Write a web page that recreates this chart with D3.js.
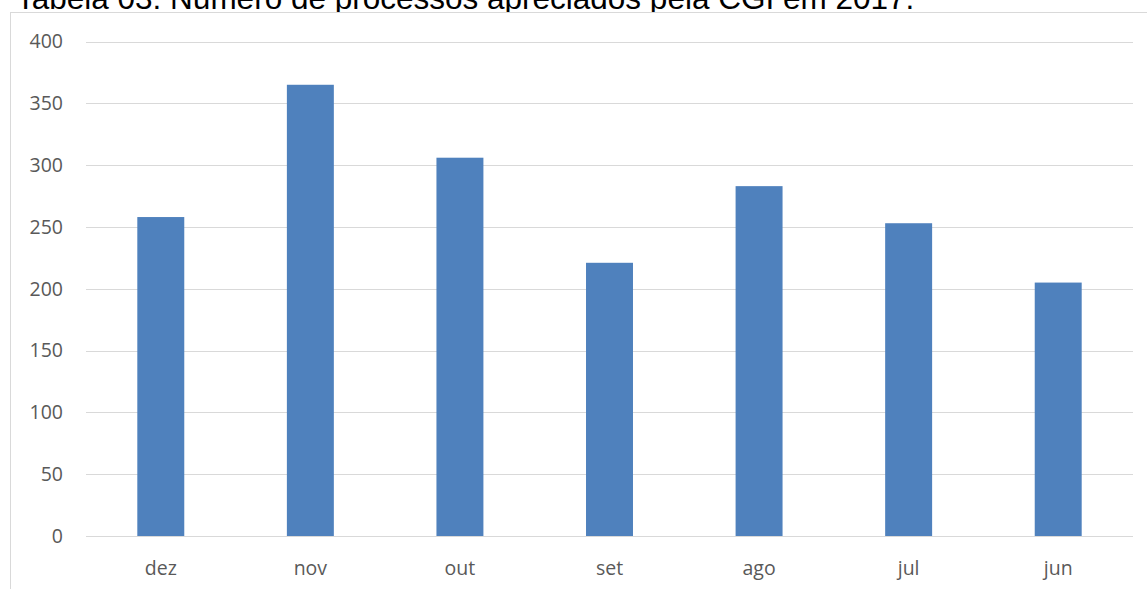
<!DOCTYPE html>
<html>
<head>
<meta charset="utf-8">
<script src="https://cdn.jsdelivr.net/npm/d3@7"></script>
<style>
html,body{margin:0;padding:0;background:#fff;overflow:hidden;}
svg{display:block;}
</style>
</head>
<body>
<svg id="chart" width="1147" height="589"></svg>
<script>
const title = "Tabela 03: Número de processos apreciados pela CGI em 2017.";
const categories = ["dez","nov","out","set","ago","jul","jun"];
const values = [258, 365, 306, 221, 283, 253, 205];
const yTicks = [0, 50, 100, 150, 200, 250, 300, 350, 400];

const W = 1147, H = 589;
const svg = d3.select("#chart");

// Title (partially hidden behind chart area)
svg.append("text")
  .attr("x", 16).attr("y", 9)
  .attr("font-family", "'Liberation Sans', Arial, sans-serif")
  .attr("font-size", 31.5)
  .attr("fill", "#000")
  .text(title);

// Chart area
svg.append("rect")
  .attr("x", 10.5).attr("y", 12.5)
  .attr("width", W + 10).attr("height", H + 10)
  .attr("fill", "#fff")
  .attr("stroke", "#d9d9d9").attr("stroke-width", 1);

const x = d3.scaleBand().domain(categories).range([86, 1133]).padding(0);
const y = d3.scaleLinear().domain([0, 400]).range([536, 41.5]);

// Gridlines
svg.append("g").selectAll("line").data(yTicks).join("line")
  .attr("x1", 86).attr("x2", 1133)
  .attr("y1", d => Math.round(y(d)) + 0.5).attr("y2", d => Math.round(y(d)) + 0.5)
  .attr("stroke", "#d9d9d9").attr("stroke-width", 1.2);

// Y labels
const yAxis = d3.axisLeft(y).tickValues(yTicks).tickSize(0).tickPadding(0);
const gy = svg.append("g").attr("transform", "translate(63,0)").call(yAxis);
gy.select(".domain").remove();
gy.selectAll("text")
  .attr("font-family", "'Open Sans', sans-serif")
  .attr("font-size", 19.5)
  .attr("fill", "#595959");

// Bars
const bw = x.bandwidth() * 0.314;
svg.append("g").selectAll("rect").data(values).join("rect")
  .attr("x", (d, i) => x(categories[i]) + x.bandwidth() / 2 - bw / 2)
  .attr("y", d => y(d))
  .attr("width", bw)
  .attr("height", d => y(0) - y(d))
  .attr("fill", "#4f81bd");

// X labels
const xAxis = d3.axisBottom(x).tickSize(0).tickPadding(0);
const gx = svg.append("g").attr("transform", "translate(0,563)").call(xAxis);
gx.select(".domain").remove();
gx.selectAll("text")
  .attr("font-family", "'Open Sans', sans-serif")
  .attr("font-size", 19.5)
  .attr("fill", "#595959")
  .attr("dy", "0.6em");
</script>
</body>
</html>
